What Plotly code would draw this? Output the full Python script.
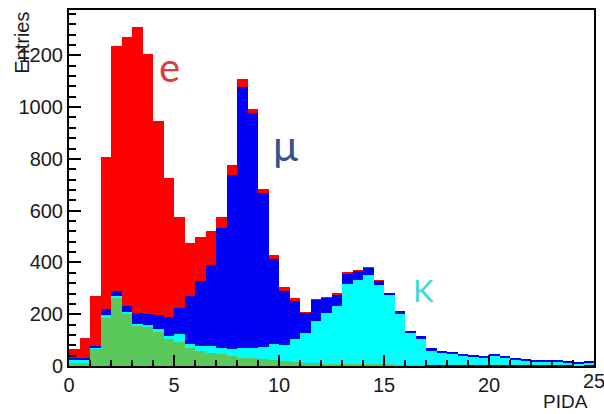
import numpy as np
import plotly.graph_objects as go

# PIDA histogram: 50 bins of width 0.5 from 0 to 25
bin_edges = [i * 0.5 for i in range(51)]
bin_width = 0.5

# cumulative tops (green, green+cyan, +blue, +red)
top_green = [13, 12, 67, 189, 263, 201, 158, 150, 135, 104,
             93, 70, 58, 51, 45, 38, 32, 32, 27, 23,
             18, 15, 12, 10, 9, 8, 8, 7, 7, 6,
             6, 5, 5, 4, 4, 3, 3, 3, 2, 2,
             2, 2, 1, 1, 1, 1, 1, 1, 1, 1]
top_cyan = [24, 22, 72, 196, 270, 208, 163, 158, 142, 115,
            124, 85, 77, 77, 70, 65, 70, 70, 74, 85,
            83, 103, 128, 173, 205, 231, 317, 334, 353, 312,
            273, 201, 127, 103, 58, 51, 45, 40, 33, 28,
            37, 30, 23, 20, 16, 14, 14, 10, 7, 12]
top_blue = [32, 30, 77, 220, 291, 231, 205, 200, 196, 189,
            225, 270, 327, 392, 532, 738, 1078, 979, 667, 415,
            291, 250, 206, 257, 263, 278, 359, 368, 381, 331,
            282, 212, 135, 115, 68, 58, 51, 45, 38, 32,
            43, 35, 28, 24, 20, 18, 18, 14, 10, 16]
top_red = [65, 109, 270, 808, 1235, 1270, 1309, 1206, 948, 725,
           577, 475, 500, 520, 577, 778, 1110, 994, 684, 430,
           304, 263, 208, 258, 264, 279, 360, 369, 382, 332,
           282, 212, 135, 115, 68, 58, 51, 45, 38, 32,
           43, 35, 28, 24, 20, 18, 18, 14, 10, 16]
proton = [0] * 30 + [2, 2, 3, 3, 4, 4, 5, 5, 5, 5,
                     5, 5, 5, 4, 4, 4, 4, 3, 3, 3]

x_ticks = [0, 5, 10, 15, 20, 25]
y_ticks = [0, 200, 400, 600, 800, 1000, 1200]

pion = [max(g - p, 0) for g, p in zip(top_green, proton)]
kaon = [c - g for c, g in zip(top_cyan, top_green)]
muon = [b - c for b, c in zip(top_blue, top_cyan)]
electron = [r - b for r, b in zip(top_red, top_blue)]

centers = [(a + b) / 2 for a, b in zip(bin_edges[:-1], bin_edges[1:])]

series = [
    ("p", proton, "#111111"),
    ("π", pion, "#5AC85A"),
    ("K", kaon, "#00FFFF"),
    ("μ", muon, "#0000F5"),
    ("e", electron, "#FF0000"),
]

fig = go.Figure()
for name, vals, col in series:
    fig.add_trace(go.Bar(x=centers, y=vals, width=bin_width, name=name,
                         marker=dict(color=col, line=dict(width=0)),
                         showlegend=False))

fontfam = "Liberation Sans, Arial, sans-serif"
tickfont = dict(family=fontfam, size=20, color="#1a1a1a")

fig.update_layout(
    barmode="stack", bargap=0,
    width=604, height=414,
    margin=dict(l=69, r=8, t=8, b=48),
    paper_bgcolor="white", plot_bgcolor="white",
    xaxis=dict(range=[0, 25], tickmode="array", tickvals=x_ticks[:-1],
               ticks="inside", ticklen=11, tickwidth=1.5, tickcolor="black",
               minor=dict(dtick=1, ticks="inside", ticklen=6, tickwidth=1.5, tickcolor="black"),
               showline=True, linewidth=2, linecolor="black", mirror=True,
               showgrid=False, zeroline=False, tickfont=tickfont),
    yaxis=dict(range=[0, 1375], tickmode="array", tickvals=y_ticks,
               ticks="inside", ticklen=12, tickwidth=1.5, tickcolor="black",
               minor=dict(dtick=40, ticks="inside", ticklen=7, tickwidth=1.5, tickcolor="black"),
               showline=True, linewidth=2, linecolor="black", mirror=True,
               showgrid=False, zeroline=False, tickfont=tickfont),
)

# last x tick label (clipped by the page edge as in the original)
fig.add_annotation(text=str(x_ticks[-1]), x=x_ticks[-1], xref="x", yref="paper", y=0,
                   xanchor="center", yanchor="top", yshift=-2, showarrow=False,
                   font=tickfont)

fig.add_annotation(text="Entries", xref="paper", yref="paper", x=-0.09, y=1.0,
                   xanchor="center", yanchor="top", textangle=-90, showarrow=False,
                   font=dict(family=fontfam, size=20, color="#1a1a1a"))
fig.add_annotation(text="PIDA", xref="paper", yref="paper", x=0.9924, y=-0.099,
                   xanchor="right", yanchor="middle", showarrow=False,
                   font=dict(family=fontfam, size=19, color="#1a1a1a"))

labelfont = "Lato, Open Sans, sans-serif"
fig.add_annotation(text="e", x=4.8, y=1155, xref="x", yref="y", showarrow=False,
                   font=dict(family=labelfont, size=40, color="#E03A3A"))
fig.add_annotation(text="μ", x=10.3, y=855, xref="x", yref="y", showarrow=False,
                   font=dict(family=labelfont, size=42, color="#34538A"))
fig.add_annotation(text="K", x=16.9, y=295, xref="x", yref="y", showarrow=False,
                   font=dict(family=labelfont, size=31, color="#45D6DD"))

fig.write_html("out.html")
